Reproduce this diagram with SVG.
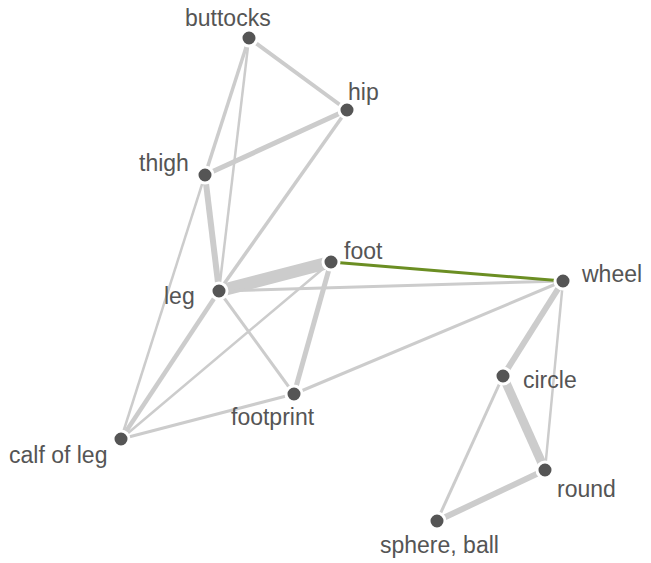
<svg xmlns="http://www.w3.org/2000/svg" width="651" height="563" viewBox="0 0 651 563">
<style>
.e{stroke:#cccccc;stroke-linecap:butt;fill:none}
.g{stroke:#6b8e23;fill:none}
.n{fill:#555555;stroke:#ffffff;stroke-width:3}
.t{font-family:"Liberation Sans",Arial,sans-serif;font-size:23px;fill:#555555}
</style>
<rect width="651" height="563" fill="#ffffff"/>
<g id="connectors">
<line class="e" x1="249" y1="38" x2="347" y2="110" stroke-width="4"/>
<line class="e" x1="249" y1="38" x2="205" y2="175" stroke-width="3.5"/>
<line class="e" x1="249" y1="38" x2="219" y2="291" stroke-width="2.5"/>
<line class="e" x1="347" y1="110" x2="205" y2="175" stroke-width="5"/>
<line class="e" x1="347" y1="110" x2="219" y2="291" stroke-width="3.5"/>
<line class="e" x1="205" y1="175" x2="219" y2="291" stroke-width="6"/>
<line class="e" x1="205" y1="175" x2="121" y2="439" stroke-width="2.5"/>
<line class="e" x1="219" y1="291" x2="331" y2="262" stroke-width="12.5"/>
<line class="e" x1="219" y1="291" x2="563" y2="281" stroke-width="3"/>
<line class="e" x1="219" y1="291" x2="294" y2="394" stroke-width="3"/>
<line class="e" x1="219" y1="291" x2="121" y2="439" stroke-width="4.5"/>
<line class="e" x1="331" y1="262" x2="294" y2="394" stroke-width="5"/>
<line class="e" x1="331" y1="262" x2="121" y2="439" stroke-width="2.5"/>
<line class="e" x1="294" y1="394" x2="121" y2="439" stroke-width="3"/>
<line class="e" x1="294" y1="394" x2="563" y2="281" stroke-width="3"/>
<line class="e" x1="563" y1="281" x2="503" y2="376" stroke-width="6"/>
<line class="e" x1="563" y1="281" x2="545" y2="470" stroke-width="2.5"/>
<line class="e" x1="503" y1="376" x2="545" y2="470" stroke-width="9"/>
<line class="e" x1="503" y1="376" x2="437" y2="521" stroke-width="3"/>
<line class="e" x1="545" y1="470" x2="437" y2="521" stroke-width="6"/>
<line class="g" x1="331" y1="262" x2="563" y2="281" stroke-width="3"/>
</g>
<g id="buttocks"><circle class="n" cx="249" cy="38" r="8"/><text class="t" x="185" y="26">buttocks</text></g>
<g id="hip"><circle class="n" cx="347" cy="110" r="8"/><text class="t" x="348" y="100">hip</text></g>
<g id="thigh"><circle class="n" cx="205" cy="175" r="8"/><text class="t" x="139" y="171">thigh</text></g>
<g id="leg"><circle class="n" cx="219" cy="291" r="8"/><text class="t" x="164" y="304">leg</text></g>
<g id="foot"><circle class="n" cx="331" cy="262" r="8"/><text class="t" x="344" y="259">foot</text></g>
<g id="wheel"><circle class="n" cx="563" cy="281" r="8"/><text class="t" x="582" y="282">wheel</text></g>
<g id="circle"><circle class="n" cx="503" cy="376" r="8"/><text class="t" x="523" y="388">circle</text></g>
<g id="round"><circle class="n" cx="545" cy="470" r="8"/><text class="t" x="557" y="497">round</text></g>
<g id="sphere-ball"><circle class="n" cx="437" cy="521" r="8"/><text class="t" x="380" y="553">sphere, ball</text></g>
<g id="footprint"><circle class="n" cx="294" cy="394" r="8"/><text class="t" x="231" y="425">footprint</text></g>
<g id="calf-of-leg"><circle class="n" cx="121" cy="439" r="8"/><text class="t" x="9" y="463">calf of leg</text></g>
</svg>
